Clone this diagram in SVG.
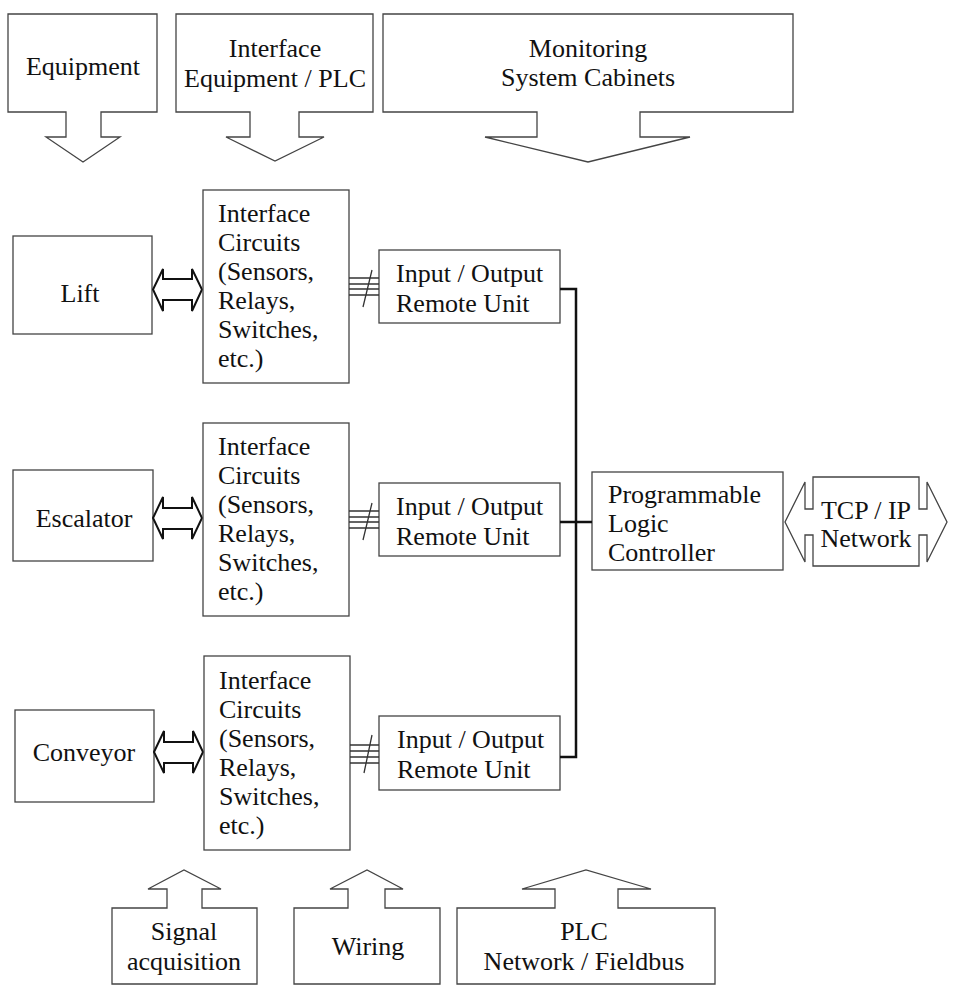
<svg xmlns="http://www.w3.org/2000/svg" width="958" height="1000" viewBox="0 0 958 1000">
<style>
.b{fill:#fff;stroke:#444;stroke-width:1.3}
.d{fill:#fff;stroke:#111;stroke-width:2}
.t{font-family:"Liberation Serif","Times New Roman",serif;font-size:26px;fill:#111}
.m{text-anchor:middle}
.w{fill:none;stroke:#111;stroke-width:2.5}
.bus{fill:none;stroke:#333;stroke-width:1.3}
</style>
<rect width="958" height="1000" fill="#fff"/>
<g id="top-equipment">
<polygon class="b" points="8,14 157,14 157,112 101,112 101,137 120,137 83,162 46,137 66,137 66,112 8,112"/>
<text class="t m" x="83" y="75">Equipment</text>
</g>
<g id="top-interface">
<polygon class="b" points="176,14 373,14 373,112 299,112 299,137 324,137 275,161 226,137 250,137 250,112 176,112"/>
<text class="t m" x="275" y="57">Interface</text>
<text class="t m" x="275" y="87">Equipment / PLC</text>
</g>
<g id="top-monitoring">
<polygon class="b" points="383,14 793,14 793,112 640,112 640,137 690,137 588,162 485,137 537,137 537,112 383,112"/>
<text class="t m" x="588" y="57">Monitoring</text>
<text class="t m" x="588" y="86">System Cabinets</text>
</g>
<g id="lift">
<rect class="b" x="13" y="236" width="139" height="98"/>
<text class="t m" x="80" y="302">Lift</text>
</g>
<g id="escalator">
<rect class="b" x="13" y="470" width="140" height="91"/>
<text class="t m" x="84" y="527">Escalator</text>
</g>
<g id="conveyor">
<rect class="b" x="15" y="710" width="139" height="92"/>
<text class="t m" x="84" y="761">Conveyor</text>
</g>
<g id="dbl-arrows">
<polygon class="d" points="153,289.5 163,269 163,279 192,279 192,269 202,289.5 192,311 192,300 163,300 163,311"/>
<polygon class="d" points="153,518 163,497 163,508 192,508 192,497 202,518 192,539 192,529 163,529 163,539"/>
<polygon class="d" points="154,752 164,731 164,742 193,742 193,731 203,752 193,773 193,763 164,763 164,773"/>
</g>
<g id="interface-1">
<rect class="b" x="203" y="190" width="146" height="193"/>
<text class="t" x="218"><tspan x="218" y="222">Interface</tspan><tspan x="218" y="251">Circuits</tspan><tspan x="218" y="280">(Sensors,</tspan><tspan x="218" y="309">Relays,</tspan><tspan x="218" y="338">Switches,</tspan><tspan x="218" y="367">etc.)</tspan></text>
</g>
<g id="interface-2">
<rect class="b" x="203" y="423" width="146" height="193"/>
<text class="t" x="218"><tspan x="218" y="455">Interface</tspan><tspan x="218" y="484">Circuits</tspan><tspan x="218" y="513">(Sensors,</tspan><tspan x="218" y="542">Relays,</tspan><tspan x="218" y="571">Switches,</tspan><tspan x="218" y="600">etc.)</tspan></text>
</g>
<g id="interface-3">
<rect class="b" x="204" y="656" width="146" height="194"/>
<text class="t" x="219"><tspan x="219" y="689">Interface</tspan><tspan x="219" y="718">Circuits</tspan><tspan x="219" y="747">(Sensors,</tspan><tspan x="219" y="776">Relays,</tspan><tspan x="219" y="805">Switches,</tspan><tspan x="219" y="834">etc.)</tspan></text>
</g>
<g id="io-1">
<rect class="b" x="379" y="250" width="181" height="73"/>
<text class="t" x="396" y="282">Input / Output</text>
<text class="t" x="396" y="312">Remote Unit</text>
</g>
<g id="io-2">
<rect class="b" x="379" y="483" width="181" height="73"/>
<text class="t" x="396" y="515">Input / Output</text>
<text class="t" x="396" y="545">Remote Unit</text>
</g>
<g id="io-3">
<rect class="b" x="379" y="716" width="181" height="74"/>
<text class="t" x="397" y="748">Input / Output</text>
<text class="t" x="397" y="778">Remote Unit</text>
</g>
<g id="plc">
<rect class="b" x="592" y="472" width="191" height="98"/>
<text class="t" x="608" y="503">Programmable</text>
<text class="t" x="608" y="532">Logic</text>
<text class="t" x="608" y="561">Controller</text>
</g>
<g id="tcpip">
<polygon class="b" points="813,477 919,477 919,509 927,509 927,482 947,522 927,562 927,535 919,535 919,566 813,566 813,535 805,535 805,562 785,522 805,482 805,509 813,509"/>
<text class="t m" x="866" y="519">TCP / IP</text>
<text class="t m" x="866" y="547">Network</text>
</g>
<g id="bottom-signal">
<polygon class="b" points="112,984 257,984 257,908 202,908 202,889 221,889 184,870 148,889 167,889 167,908 112,908"/>
<text class="t m" x="184" y="940">Signal</text>
<text class="t m" x="184" y="970">acquisition</text>
</g>
<g id="bottom-wiring">
<polygon class="b" points="294,984 440,984 440,908 385,908 385,889 403,889 367,870 330,889 348,889 348,908 294,908"/>
<text class="t m" x="368" y="955">Wiring</text>
</g>
<g id="bottom-plc">
<polygon class="b" points="457,984 715,984 715,908 618,908 618,889 651,889 586,870 522,889 555,889 555,908 457,908"/>
<text class="t m" x="584" y="940">PLC</text>
<text class="t m" x="584" y="970">Network / Fieldbus</text>
</g>
<g id="connectors">
<path class="bus" d="M349,278H379M349,284H379M349,289H379M349,295H379M372,270L363,307"/>
<path class="bus" d="M349,511H379M349,517H379M349,522H379M349,528H379M372,503L363,540"/>
<path class="bus" d="M350,745H379M350,751H379M350,757H379M350,763H379M372,735L364,773"/>
<path class="w" d="M560,289H576V757H560M560,522H592"/>
</g>
</svg>
